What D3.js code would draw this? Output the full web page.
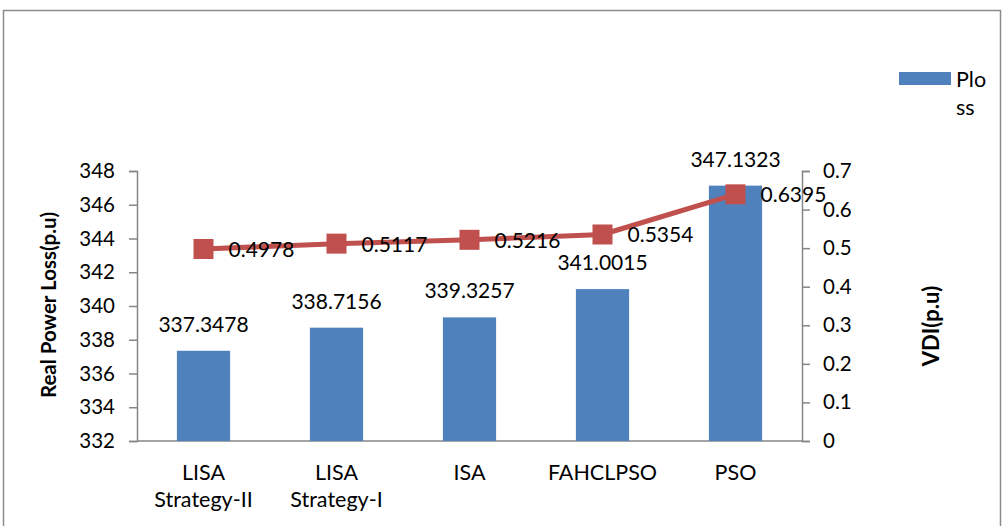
<!DOCTYPE html>
<html>
<head>
<meta charset="utf-8">
<script src="https://cdn.jsdelivr.net/npm/d3@7"></script>
<style>
  body { margin: 0; background: #fff; }
  text { font-family: Lato, "Open Sans", sans-serif; fill: #000; }
</style>
</head>
<body>
<script>
const width = 1006;
const height = 526;

// data
const categories = ["LISA\nStrategy-II", "LISA\nStrategy-I", "ISA", "FAHCLPSO", "PSO"];
const ploss = [337.3478, 338.7156, 339.3257, 341.0015, 347.1323];
const vdi = [0.4978, 0.5117, 0.5216, 0.5354, 0.6395];
const leftTicks = [332, 334, 336, 338, 340, 342, 344, 346, 348];
const rightTicks = [0, 0.1, 0.2, 0.3, 0.4, 0.5, 0.6, 0.7];

const svg = d3.select("body").append("svg")
    .attr("width", width)
    .attr("height", height);

// outer frame
svg.append("rect")
    .attr("x", 3.5).attr("y", 10.5)
    .attr("width", 997).attr("height", 530)
    .attr("fill", "none")
    .attr("stroke", "#8c8c8c")
    .attr("stroke-width", 1.5);

const plotLeft = 137, plotRight = 802, plotTop = 171, plotBottom = 441;

const x = d3.scaleBand()
    .domain(categories)
    .range([plotLeft, plotRight]);

const y = d3.scaleLinear()
    .domain([332, 348])
    .range([plotBottom, plotTop]);

const y2 = d3.scaleLinear()
    .domain([0, 0.7])
    .range([plotBottom, plotTop]);

const axisColor = "#868686";

// left axis
const gl = svg.append("g")
    .attr("transform", `translate(${plotLeft},0)`)
    .call(d3.axisLeft(y).tickValues(leftTicks).tickSize(8).tickPadding(14).tickFormat(d3.format("d")));
gl.select(".domain").attr("stroke", axisColor).attr("stroke-width", 1.5);
gl.selectAll(".tick line").attr("stroke", axisColor).attr("stroke-width", 1.5);
gl.selectAll(".tick text").attr("font-size", 20.5).attr("font-family", "Lato").attr("fill", "#000");

// right axis
const gr = svg.append("g")
    .attr("transform", `translate(${plotRight},0)`)
    .call(d3.axisRight(y2).tickValues(rightTicks).tickSize(8).tickPadding(13).tickFormat(d => d === 0 ? "0" : d3.format(".1f")(d)));
gr.select(".domain").attr("stroke", axisColor).attr("stroke-width", 1.5);
gr.selectAll(".tick line").attr("stroke", axisColor).attr("stroke-width", 1.5);
gr.selectAll(".tick text").attr("font-size", 20.5).attr("font-family", "Lato").attr("fill", "#000");

// bottom axis line
svg.append("line")
    .attr("x1", plotLeft).attr("x2", plotRight)
    .attr("y1", plotBottom).attr("y2", plotBottom)
    .attr("stroke", axisColor).attr("stroke-width", 1.5);

const bw = x.bandwidth();
const cx = d => x(d) + bw / 2;

// bars
svg.append("g").selectAll("rect")
    .data(categories)
    .enter().append("rect")
    .attr("x", d => cx(d) - bw * 0.2)
    .attr("width", bw * 0.4)
    .attr("y", (d, i) => y(ploss[i]))
    .attr("height", (d, i) => plotBottom - y(ploss[i]))
    .attr("fill", "#4F81BD");

// bar labels
svg.append("g").selectAll("text")
    .data(categories)
    .enter().append("text")
    .attr("x", d => cx(d))
    .attr("y", (d, i) => y(ploss[i]) - 19)
    .attr("text-anchor", "middle")
    .attr("font-size", 21)
    .text((d, i) => ploss[i].toFixed(4));

// category labels
const cat = svg.append("g").selectAll("text")
    .data(categories)
    .enter().append("text")
    .attr("x", d => cx(d))
    .attr("y", 480)
    .attr("text-anchor", "middle")
    .attr("font-size", 21.5);
cat.each(function(d) {
    d.split("\n").forEach((s, k) => {
        d3.select(this).append("tspan")
            .attr("x", cx(d))
            .attr("dy", k === 0 ? 0 : 27)
            .text(s);
    });
});

// VDI line
const line = d3.line()
    .x((d, i) => cx(categories[i]))
    .y(d => y2(d));

svg.append("path")
    .datum(vdi)
    .attr("d", line)
    .attr("fill", "none")
    .attr("stroke", "#C0504D")
    .attr("stroke-width", 5)
    .attr("stroke-linejoin", "round");

svg.append("g").selectAll("rect")
    .data(vdi)
    .enter().append("rect")
    .attr("x", (d, i) => cx(categories[i]) - 10)
    .attr("y", d => y2(d) - 10)
    .attr("width", 20)
    .attr("height", 20)
    .attr("fill", "#C0504D");

svg.append("g").selectAll("text")
    .data(vdi)
    .enter().append("text")
    .attr("x", (d, i) => cx(categories[i]) + 25)
    .attr("y", d => y2(d) + 8)
    .attr("font-size", 21)
    .text(d => d.toFixed(4));

// axis titles
svg.append("text")
    .attr("transform", "translate(56,305) rotate(-90)")
    .attr("text-anchor", "middle")
    .attr("font-size", 20.5)
    .attr("font-weight", "bold")
    .text("Real Power Loss(p.u)");

svg.append("text")
    .attr("transform", "translate(939,326) rotate(-90)")
    .attr("text-anchor", "middle")
    .attr("font-size", 22)
    .attr("font-weight", "bold")
    .text("VDI(p.u)");

// legend
svg.append("rect")
    .attr("x", 899).attr("y", 72)
    .attr("width", 52).attr("height", 13)
    .attr("fill", "#4F81BD");
svg.append("text")
    .attr("x", 956).attr("y", 87)
    .attr("font-size", 21.5)
    .text("Plo");
svg.append("text")
    .attr("x", 956).attr("y", 115)
    .attr("font-size", 21.5)
    .text("ss");
</script>
</body>
</html>
